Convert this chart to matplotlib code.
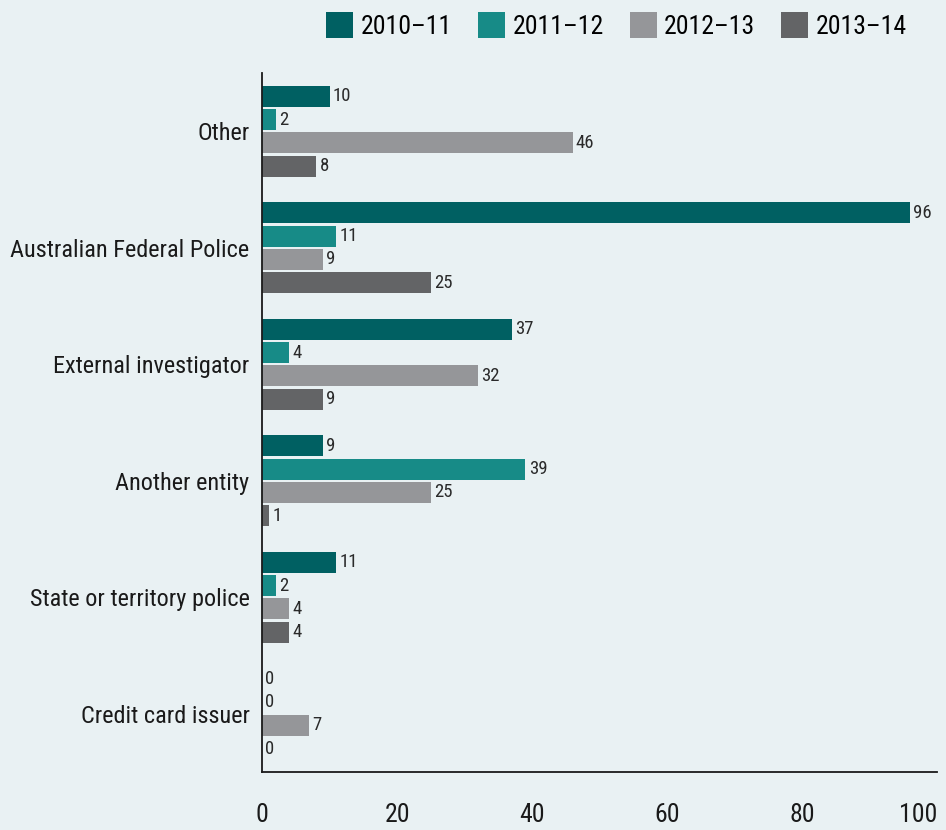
import matplotlib as mpl
mpl.use('Agg')
import matplotlib.pyplot as plt
from matplotlib.patches import Patch
import numpy as np

categories = ['Other', 'Australian Federal Police', 'External investigator',
              'Another entity', 'State or territory police', 'Credit card issuer']
years = ['2010\u201311', '2011\u201312', '2012\u201313', '2013\u201314']
v_2010_11 = [10, 96, 37, 9, 11, 0]
v_2011_12 = [2, 11, 4, 39, 2, 0]
v_2012_13 = [46, 9, 32, 25, 4, 7]
v_2013_14 = [8, 25, 9, 1, 4, 0]
xticks = [0, 20, 40, 60, 80, 100]

series = [v_2010_11, v_2011_12, v_2012_13, v_2013_14]
colors = ['#006062', '#178b87', '#959699', '#636466']
bg = '#e9f1f3'

plt.rcParams['font.family'] = ['Roboto Condensed', 'Archivo Narrow',
                               'Liberation Sans Narrow', 'DejaVu Sans']

fig = plt.figure(figsize=(9.46, 8.3), dpi=100, facecolor=bg)
ax = fig.add_axes([262 / 946, 1 - 772 / 830, 675 / 946, 699 / 830])
ax.set_facecolor(bg)

y = np.arange(len(categories))
pitch = 0.2
height = 0.18
for j, vals in enumerate(series):
    pos = y - 0.3 + j * pitch
    ax.barh(pos, vals, height=height, color=colors[j], label=years[j])
    for p, v in zip(pos, vals):
        ax.text(v + 0.5, p, str(v), va='center', ha='left',
                fontsize=13.5, color='#2a2a2a')

ax.set_ylim(len(categories) - 0.5, -0.5)
ax.set_xlim(0, 100)
ax.set_yticks(y)
ax.set_yticklabels(categories, fontsize=17.5, color='#1a1a1a')
ax.set_xticks(xticks)
ax.set_xticklabels([str(t) for t in xticks], fontsize=18.5, color='#1a1a1a')
ax.get_xticklabels()[-1].set_ha('right')
ax.tick_params(axis='both', length=0)
ax.tick_params(axis='x', pad=22)
ax.tick_params(axis='y', pad=9)
for s in ['top', 'right']:
    ax.spines[s].set_visible(False)
for s in ['left', 'bottom']:
    ax.spines[s].set_color('#1a1a1a')
    ax.spines[s].set_linewidth(1.3)

handles = [Patch(facecolor=c, label=l) for c, l in zip(colors, years)]
fig.legend(handles=handles, loc='upper left', bbox_to_anchor=(316 / 946, 1 - 2 / 830),
           ncol=4, frameon=False, fontsize=18.5, handlelength=1.05, handleheight=1.17,
           handletextpad=0.3, columnspacing=1.0, borderaxespad=0)

fig.savefig('out.png', dpi=100, facecolor=bg)
